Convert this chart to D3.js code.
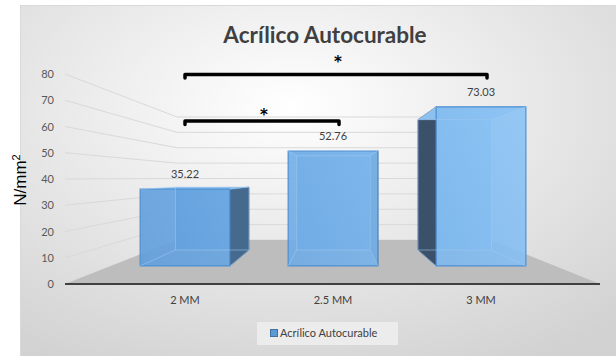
<!DOCTYPE html>
<html>
<head>
<meta charset="utf-8">
<script src="https://cdn.jsdelivr.net/npm/d3@7"></script>
<style>
  body { margin: 0; background: #fff; }
  text { font-family: Lato, "Open Sans", sans-serif; }
</style>
</head>
<body>
<div id="my_chart"></div>
<script>
// data
var categories = ["2 MM", "2.5 MM", "3 MM"];
var values = [35.22, 52.76, 73.03];
var yTicks = [0, 10, 20, 30, 40, 50, 60, 70, 80];
var seriesName = "Acrílico Autocurable";
var pairs = [["2 MM", "2.5 MM"], ["2 MM", "3 MM"]];
var pairMarks = ["*", "*"];

var width = 616, height = 356;

var svg = d3.select("#my_chart")
    .append("svg")
    .attr("width", width)
    .attr("height", height);

var defs = svg.append("defs");
var bg = defs.append("radialGradient").attr("id", "bg")
    .attr("cx", "45%").attr("cy", "28%").attr("r", "80%");
bg.append("stop").attr("offset", "0%").attr("stop-color", "#ffffff");
bg.append("stop").attr("offset", "100%").attr("stop-color", "#d2d2d2");

var barGrad = defs.append("linearGradient").attr("id", "barGrad")
    .attr("gradientUnits", "userSpaceOnUse")
    .attr("x1", 140).attr("y1", 270).attr("x2", 525).attr("y2", 100);
barGrad.append("stop").attr("offset", "0%").attr("stop-color", "#619edb");
barGrad.append("stop").attr("offset", "100%").attr("stop-color", "#8ec5f5");

// chart panel
svg.append("rect")
    .attr("x", 20.5).attr("y", 5.5)
    .attr("width", 600).attr("height", 360)
    .attr("fill", "url(#bg)")
    .attr("stroke", "#d9d9d9");

// perspective: front plane coords -> screen, s = scale toward vanishing point
var vp = [335.5, 177.8];
var sFront = 0.83, sBack = 0.68, sWall = 0.586;
function proj(px, py, s) {
    return [vp[0] + (px - vp[0]) * s, vp[1] + (py - vp[1]) * s];
}

var x = d3.scaleBand()
    .domain(categories)
    .range([65, 600])
    .paddingInner(0.394)
    .paddingOuter(0.197);

var y = d3.scaleLinear()
    .domain([0, 80])
    .range([284, 74]);

var line = d3.line();

// gridlines (left wall + back wall)
for (var v of yTicks) {
    svg.append("path")
        .attr("d", line([proj(65, y(v), 1), proj(65, y(v), sWall), proj(600, y(v), sWall)]))
        .attr("fill", "none")
        .attr("stroke", "#d9d9d9")
        .attr("stroke-width", 1);
    svg.append("text")
        .attr("x", 54)
        .attr("y", y(v) + 4)
        .attr("text-anchor", "end")
        .style("font-size", "11px")
        .attr("fill", "#595959")
        .text(v);
}

// floor
var y0 = y(0);
svg.append("path")
    .attr("d", line([proj(65, y0, 1), proj(65, y0, sWall), proj(600, y0, sWall), proj(600, y0, 1)]) + "Z")
    .attr("fill", "#bdbdbd");
svg.append("line")
    .attr("x1", 65).attr("y1", y0)
    .attr("x2", 600).attr("y2", y0)
    .attr("stroke", "#404040")
    .attr("stroke-width", 2);

// bars
var bw = x.bandwidth();
categories.forEach(function(c, i) {
    var X0 = x(c), X1 = x(c) + bw, Yt = y(values[i]);
    var fTL = proj(X0, Yt, sFront), fTR = proj(X1, Yt, sFront),
        fBL = proj(X0, y0, sFront), fBR = proj(X1, y0, sFront),
        bTL = proj(X0, Yt, sBack), bTR = proj(X1, Yt, sBack),
        bBL = proj(X0, y0, sBack), bBR = proj(X1, y0, sBack);
    var g = svg.append("g");
    // back face
    g.append("path").attr("d", line([bTL, bTR, bBR, bBL]) + "Z")
        .attr("fill", "url(#barGrad)");
    // outer side face
    var cx = X0 + bw / 2;
    var left = cx < vp[0];
    var side = left ? [fTR, bTR, bBR, fBR] : [fTL, bTL, bBL, fBL];
    g.append("path").attr("d", line(side) + "Z")
        .attr("fill", left ? "#46698e" : "#3a5169")
        .attr("stroke", "#3a5a7c")
        .attr("stroke-width", 0.8);
    // top face
    g.append("path").attr("d", line([fTL, fTR, bTR, bTL]) + "Z")
        .attr("fill", "#8cc0ef");
    // front face
    g.append("path").attr("d", line([fTL, fTR, fBR, fBL]) + "Z")
        .attr("fill", "url(#barGrad)")
        .attr("fill-opacity", 0.92)
        .attr("stroke", "#4f8fd2")
        .attr("stroke-width", 1.2);
    // inner edges seen through the front face
    [[bTL, bBL], [bBL, bBR], [bTR, bBR], [bTL, bTR], [fBL, bBL], [fBR, bBR], [fTL, bTL], [fTR, bTR]]
        .forEach(function(e) {
            g.append("path").attr("d", line(e))
                .attr("stroke", "#9fcaf2")
                .attr("stroke-opacity", 0.55)
                .attr("stroke-width", 1);
        });
    // value label
    svg.append("text")
        .attr("x", fTL[0] + (fTR[0] - fTL[0]) / 2)
        .attr("y", fTL[1] - 11)
        .attr("text-anchor", "middle")
        .style("font-size", "11px")
        .attr("fill", "#404040")
        .text(values[i].toFixed(2));
    // category label
    svg.append("text")
        .attr("x", proj(cx, y0, sFront)[0])
        .attr("y", 304)
        .attr("text-anchor", "middle")
        .style("font-size", "11px")
        .attr("fill", "#404040")
        .text(c);
});

function labelX(c) {
    return proj(x(c) + bw / 2, y0, sFront)[0];
}

// significance brackets
var bracketY = [121, 74.5];
var starGap = [8, 15];
pairs.forEach(function(p, i) {
    var x1 = labelX(p[0]), x2 = labelX(p[1]) + 6, yb = bracketY[i];
    svg.append("path")
        .attr("d", "M" + x1 + "," + (yb + 3.5) + "L" + x1 + "," + yb + "L" + x2 + "," + yb + "L" + x2 + "," + (yb + 3.5))
        .attr("fill", "none")
        .attr("stroke", "#000")
        .attr("stroke-width", 3.5)
        .attr("stroke-linejoin", "round")
        .attr("stroke-linecap", "round");
    svg.append("text")
        .attr("x", (x1 + x2) / 2 + 2)
        .attr("y", yb - starGap[i] + 7)
        .attr("text-anchor", "middle")
        .style("font-family", "'DejaVu Sans', sans-serif")
        .style("font-size", "15px")
        .style("font-weight", "bold")
        .attr("fill", "#000")
        .text(pairMarks[i]);
});

// title
svg.append("text")
    .attr("x", 325)
    .attr("y", 43)
    .attr("text-anchor", "middle")
    .style("font-size", "22.5px")
    .style("font-weight", "bold")
    .attr("fill", "#404040")
    .text(seriesName);

// y axis title
var yt = svg.append("text")
    .attr("transform", "translate(26,180) rotate(-90)")
    .attr("text-anchor", "middle")
    .style("font-family", "'Liberation Sans', Arial, sans-serif")
    .style("font-size", "17px")
    .attr("fill", "#000");
yt.append("tspan").text("N/mm");
yt.append("tspan").attr("baseline-shift", "super").style("font-size", "11px").text("2");

// legend
svg.append("rect")
    .attr("x", 257).attr("y", 322)
    .attr("width", 141).attr("height", 23)
    .attr("fill", "#ececec");
svg.append("rect")
    .attr("x", 270.5).attr("y", 329.5)
    .attr("width", 7).attr("height", 7)
    .attr("fill", "#5b9bd5")
    .attr("stroke", "#41719c");
svg.append("text")
    .attr("x", 280)
    .attr("y", 337)
    .style("font-size", "11px")
    .attr("fill", "#404040")
    .text(seriesName);
</script>
</body>
</html>
